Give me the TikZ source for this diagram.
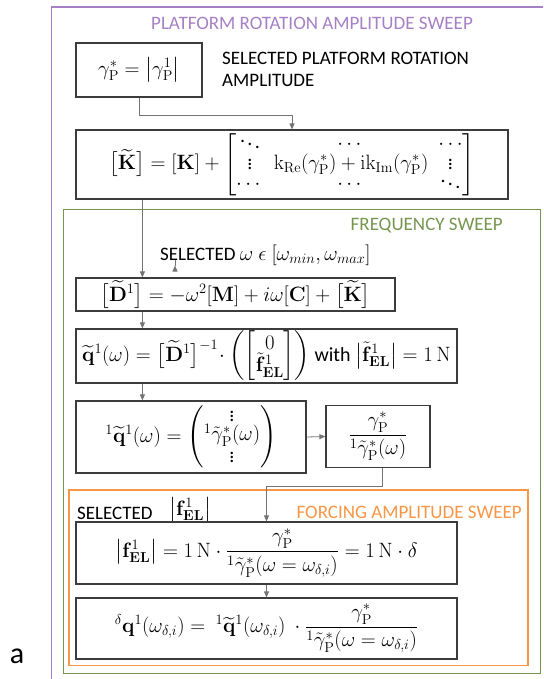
\documentclass[tikz,border=0pt]{standalone}
\usepackage[no-math]{fontspec}
\setmainfont{Carlito}
\usepackage{amsmath}
\usepackage{tikz}
\usetikzlibrary{arrows.meta, positioning, calc}
\definecolor{mypurple}{RGB}{166,128,196}
\definecolor{mygreen}{RGB}{118,150,80}
\definecolor{myorange}{RGB}{247,150,70}
\definecolor{mydark}{RGB}{60,60,60}
\definecolor{mygray}{RGB}{115,115,115}
\newcommand{\gP}{\gamma_{\mathrm{P}}}
\tikzset{
  block/.style={rectangle, draw=mydark, line width=1.2pt, inner sep=0pt,
    align=center, font=\fontsize{20}{23}\selectfont},
  frame/.style={line width=1.5pt},
  arrow/.style={-{Triangle[length=6pt,width=5pt]}, line width=0.8pt, color=mygray},
  line/.style={line width=0.8pt, color=mygray},
  lbl/.style={font=\fontsize{19}{22}\selectfont, inner sep=0pt}
}

\begin{document}
\begin{tikzpicture}[x=1pt, y=-1pt]
  \useasboundingbox (0,0) rectangle (543,679);
  % sweep frames
  \draw[frame, mypurple] (543,7) -| (51.7,679);
  \draw[frame, mygreen] (63.3,209.3) rectangle (540.7,673.5);
  \draw[frame, myorange] (69,490) rectangle (528,665.5);

  \node[lbl, text=mypurple] (ttlplat) at (312,23) {PLATFORM ROTATION AMPLITUDE SWEEP};
  \node[block, minimum width=126pt, minimum height=54pt] (gam) at (139,70)
    {$\gP^{*} = \bigl|\gP^{1}\bigr|$};
  \node[lbl, align=left, anchor=west] (selplat) at (222,69)
    {SELECTED PLATFORM ROTATION\\AMPLITUDE};
  \node[block, minimum width=432pt, minimum height=69pt] (ktil) at (292,164.5)
    {$\bigl[\widetilde{\mathbf{K}}\bigr] = [\mathbf{K}] +
      \left[\begin{matrix} \ddots & \cdots & \cdots\\[-3pt]
      \vdots & \mathrm{k}_{\mathrm{Re}}(\gP^{*}) + \mathrm{ik}_{\mathrm{Im}}(\gP^{*}) & \vdots\\[-3pt]
      \cdots & \cdots & \ddots \end{matrix}\right]$};

  \node[lbl, text=mygreen, anchor=east] (ttlfreq) at (503,226) {FREQUENCY SWEEP};
  \node[lbl, anchor=west] (selom) at (160,255)
    {SELECTED {\fontsize{22}{24}\selectfont$\omega\ \epsilon\ [\omega_{min},\omega_{max}]$}};
  \node[block, minimum width=319pt, minimum height=33pt] (dmat) at (235.5,294.5)
    {$\bigl[\widetilde{\mathbf{D}}^{1}\bigr] = -\omega^{2}[\mathbf{M}] + i\omega[\mathbf{C}] + \bigl[\widetilde{\mathbf{K}}\bigr]$};
  \node[block, minimum width=381pt, minimum height=54pt] (qtil) at (266.5,356)
    {$\widetilde{\mathbf{q}}^{1}(\omega) = \bigl[\widetilde{\mathbf{D}}^{1}\bigr]^{-1}\!\cdot
      \biggl(\biggl[\begin{matrix} 0\\[-4pt] \tilde{\mathbf{f}}^{1}_{\mathbf{EL}} \end{matrix}\biggr]\biggr)$
      with $\bigl|\tilde{\mathbf{f}}^{1}_{\mathbf{EL}}\bigr| = 1\,\mathrm{N}$};
  \node[block, minimum width=230pt, minimum height=72pt] (qone) at (191,437)
    {${}^{1}\widetilde{\mathbf{q}}^{1}(\omega) =
      \left(\begin{matrix} \vdots\\[-4pt] {}^{1}\tilde{\gamma}^{*}_{\mathrm{P}}(\omega)\\[-2pt] \vdots \end{matrix}\right)$};
  \node[block, minimum width=104pt, minimum height=62pt] (ratio) at (378,436.5)
    {$\dfrac{\gP^{*}}{{}^{1}\tilde{\gamma}^{*}_{\mathrm{P}}(\omega)}$};

  \node[lbl, anchor=west] (selfor) at (77,513) {SELECTED};
  \node[lbl, font=\fontsize{21}{24}\selectfont] (fsel) at (190,510) {$\bigl|\mathbf{f}^{1}_{\mathbf{EL}}\bigr|$};
  \node[lbl, text=myorange, anchor=east] (ttlforc) at (522,512) {FORCING AMPLITUDE SWEEP};
  \node[block, minimum width=381pt, minimum height=62pt] (fel) at (266.5,553)
    {$\bigl|\mathbf{f}^{1}_{\mathbf{EL}}\bigr| = 1\,\mathrm{N}\cdot
      \dfrac{\gP^{*}}{{}^{1}\tilde{\gamma}^{*}_{\mathrm{P}}(\omega=\omega_{\delta,i})} = 1\,\mathrm{N}\cdot\delta$};
  \node[block, minimum width=381pt, minimum height=61pt] (dq) at (266.5,628.5)
    {${}^{\delta}\mathbf{q}^{1}(\omega_{\delta,i}) = \ {}^{1}\widetilde{\mathbf{q}}^{1}(\omega_{\delta,i})\ \cdot
      \dfrac{\gP^{*}}{{}^{1}\tilde{\gamma}^{*}_{\mathrm{P}}(\omega=\omega_{\delta,i})}$};

  \node[lbl, font=\fontsize{30}{34}\selectfont] (pan) at (17,656) {a};

  % connectors
  \draw[arrow] (gam.south) -- ++(0,18) -| (ktil.north);
  \draw[arrow] ($(ktil.south west)+(67,0)$) -- ($(dmat.north west)+(67,0)$);
  \draw[arrow] ($(selom.south west)+(15,0)$) -- ($(selom.south west)+(15,0)$ |- dmat.north);
  \draw[arrow] ($(dmat.south west)+(67,0)$) -- ($(qtil.north west)+(67,0)$);
  \draw[arrow] ($(qtil.south west)+(67,0)$) -- ($(qone.north west)+(67,0)$);
  \draw[arrow] (qone.east) -- (ratio.west);
  \draw[arrow] ($(ratio.south)+(4,0)$) -- ++(0,18.5) -| (fel.north);
  \draw[arrow] (fel.south) -- (dq.north);
\end{tikzpicture}
\end{document}
